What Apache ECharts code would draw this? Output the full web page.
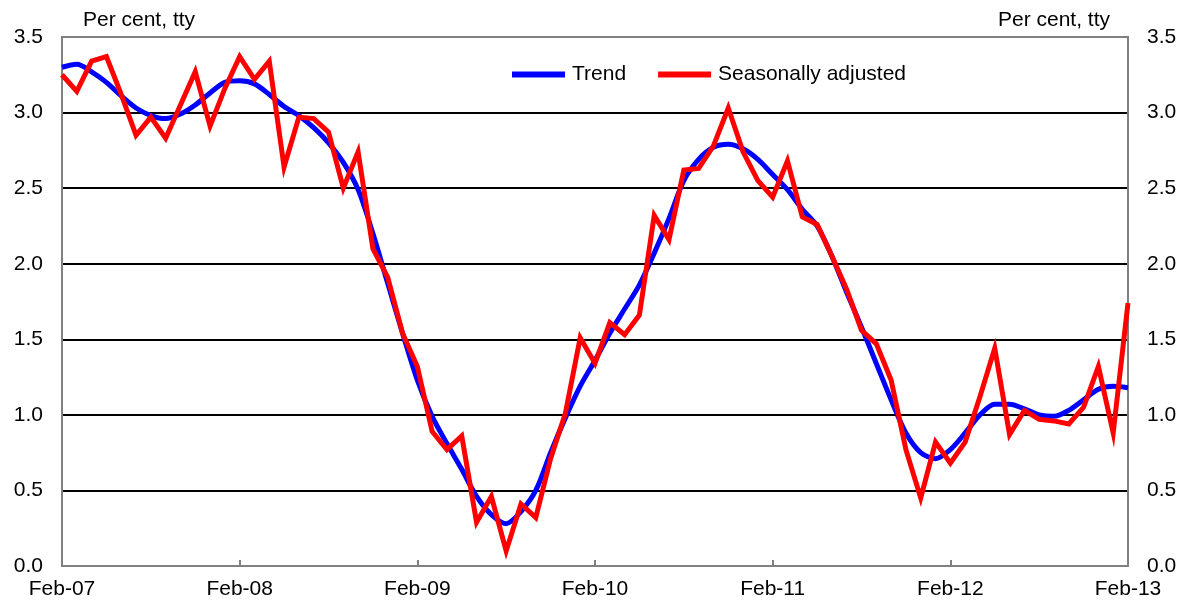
<!DOCTYPE html>
<html><head><meta charset="utf-8">
<script src="https://cdn.jsdelivr.net/npm/echarts@6/dist/echarts.min.js"></script>
<style>html,body{margin:0;padding:0;background:#fff}#c{width:1189px;height:607px}</style>
</head><body><div id="c"></div>
<script>
const tickLabels = ['Feb-07','Feb-08','Feb-09','Feb-10','Feb-11','Feb-12','Feb-13'];
const monthNames = ['Feb','Mar','Apr','May','Jun','Jul','Aug','Sep','Oct','Nov','Dec','Jan'];
const trend = [3.30,3.32,3.27,3.20,3.11,3.03,2.98,2.96,2.99,3.05,3.13,3.20,
  3.21,3.19,3.12,3.04,2.98,2.90,2.80,2.67,2.49,2.20,1.87,1.54,
  1.23,0.99,0.81,0.64,0.46,0.34,0.28,0.36,0.50,0.75,0.98,1.19,
  1.36,1.54,1.70,1.86,2.07,2.30,2.55,2.69,2.77,2.79,2.76,2.69,
  2.59,2.49,2.36,2.25,2.05,1.81,1.58,1.34,1.10,0.88,0.75,0.71,
  0.77,0.88,1.00,1.07,1.07,1.04,1.00,0.99,1.03,1.10,1.17,1.19,1.18];
const seasAdj = [3.25,3.14,3.34,3.37,3.12,2.85,2.97,2.83,3.05,3.27,2.91,3.16,
  3.37,3.22,3.34,2.64,2.97,2.96,2.87,2.50,2.74,2.10,1.91,1.54,
  1.32,0.89,0.77,0.86,0.29,0.46,0.10,0.41,0.32,0.71,1.01,1.51,
  1.34,1.61,1.53,1.66,2.32,2.16,2.62,2.63,2.78,3.03,2.74,2.55,
  2.44,2.68,2.31,2.26,2.05,1.83,1.56,1.47,1.23,0.77,0.45,0.82,
  0.68,0.82,1.12,1.44,0.87,1.03,0.97,0.96,0.94,1.05,1.32,0.88,1.74];
const categories = trend.map((_, i) => {
  const y = 7 + Math.floor((i + 1) / 12);
  return monthNames[i % 12] + '-' + String(y).padStart(2, '0');
});
const font = 'Liberation Sans, Arial, sans-serif';
const FS = 21;
const yAxisBase = {
  type: 'value', min: 0, max: 3.5, interval: 0.5,
  axisLine: {show: true, lineStyle: {color: '#808080', width: 2}},
  axisTick: {show: false},
  axisLabel: {color: '#000', fontSize: FS, fontFamily: font, formatter: v => v.toFixed(1), margin: 19},
  nameGap: 6
};
const chart = echarts.init(document.getElementById('c'), null, {renderer: 'canvas'});
chart.setOption({
  animation: false,
  grid: {left: 62, right: 61, top: 37, bottom: 41, show: true, borderColor: '#808080', borderWidth: 2},
  legend: {
    left: 507, top: 59, itemWidth: 53, itemHeight: 6, itemGap: 32, icon: 'rect',
    textStyle: {color: '#000', fontSize: FS, fontFamily: font, padding: [0, 0, 0, 2]},
    data: ['Trend', 'Seasonally adjusted']
  },
  xAxis: {
    type: 'category', data: categories, boundaryGap: false,
    axisLine: {lineStyle: {color: '#808080', width: 2}},
    axisTick: {inside: true, length: 6, interval: 11, lineStyle: {color: '#808080', width: 2}},
    axisLabel: {interval: 11, color: '#000', fontSize: FS, fontFamily: font, margin: 13,
      formatter: (v, i) => tickLabels[i / 12] || ''},
    splitLine: {show: false}
  },
  yAxis: [
    Object.assign({}, yAxisBase, {position: 'left', name: 'Per cent, tty', nameLocation: 'end',
      nameTextStyle: {color: '#000', fontSize: FS, fontFamily: font, align: 'left', padding: [0, 0, 0, 21]},
      splitLine: {show: true, showMaxLine: false, lineStyle: {color: '#000', width: 2}}}),
    Object.assign({}, yAxisBase, {position: 'right', name: 'Per cent, tty', nameLocation: 'end',
      nameTextStyle: {color: '#000', fontSize: FS, fontFamily: font, align: 'right', padding: [0, 18, 0, 0]},
      splitLine: {show: false}})
  ],
  series: [
    {name: 'Trend', type: 'line', data: trend, smooth: 0.3, showSymbol: false,
      lineStyle: {color: '#0000ff', width: 5}, itemStyle: {color: '#0000ff'}, z: 2},
    {name: 'Seasonally adjusted', type: 'line', data: seasAdj, showSymbol: false,
      lineStyle: {color: '#ff0000', width: 5, join: 'miter'}, itemStyle: {color: '#ff0000'}, z: 3}
  ]
});
</script></body></html>
